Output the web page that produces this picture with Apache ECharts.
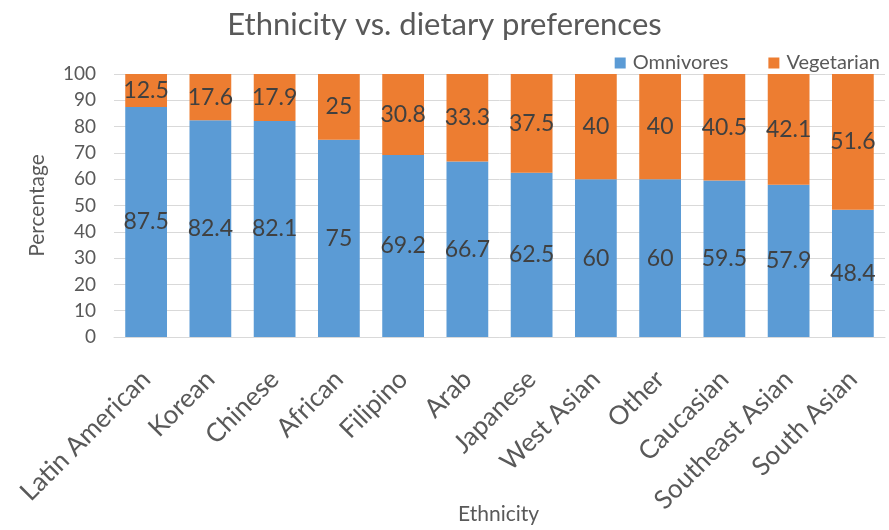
<!DOCTYPE html>
<html><head><meta charset="utf-8">
<script src="https://cdn.jsdelivr.net/npm/echarts@6/dist/echarts.min.js"></script>
<style>html,body{margin:0;padding:0;background:#fff}#c{width:889px;height:530px}</style>
</head><body><div id="c"></div>
<script>
const categories = ["Latin American","Korean","Chinese","African","Filipino","Arab","Japanese","West Asian","Other","Caucasian","Southeast Asian","South Asian"];
const omnivores = [87.5,82.4,82.1,75,69.2,66.7,62.5,60,60,59.5,57.9,48.4];
const vegetarian = [12.5,17.6,17.9,25,30.8,33.3,37.5,40,40,40.5,42.1,51.6];
const yTicks = [0,10,20,30,40,50,60,70,80,90,100];

const chart = echarts.init(document.getElementById('c'));
const font = "Lato, 'Open Sans', sans-serif";
const lbl = {show:true, position:'inside', color:'#404040', fontSize:23, fontFamily:font};
chart.setOption({
  animation:false,
  title:[
    {text:'Ethnicity vs. dietary preferences', left:'center', top:4,
      textStyle:{fontSize:31, fontWeight:'normal', color:'#595959', fontFamily:font}},
    {text:'Ethnicity', left:458, top:504, padding:0,
      textStyle:{fontSize:21, fontWeight:'normal', color:'#595959', fontFamily:font}}
  ],
  legend:{right:4, top:48, itemWidth:11, itemHeight:11, itemGap:40, icon:'rect',
    textStyle:{fontSize:20, color:'#595959', fontFamily:font, padding:[0,0,0,2]},
    data:['Omnivores','Vegetarian']},
  grid:{left:114, right:4, top:74, bottom:193, outerBoundsMode:'none', containLabel:false},
  xAxis:{type:'category', data:categories,
    axisLine:{lineStyle:{color:'#d9d9d9'}}, axisTick:{show:false},
    axisLabel:{rotate:45, fontSize:26, color:'#595959', fontFamily:font, margin:38, interval:0}},
  yAxis:{type:'value', min:0, max:100, interval:10, name:'Percentage', nameLocation:'middle', nameGap:66,
    nameTextStyle:{fontSize:21, color:'#595959', fontFamily:font},
    axisLine:{show:false}, axisTick:{show:false},
    axisLabel:{fontSize:19, color:'#595959', fontFamily:font, margin:18,
      formatter:v=>yTicks.includes(v)?String(v):''},
    splitLine:{lineStyle:{color:'#d9d9d9'}}},
  series:[
    {name:'Omnivores', type:'bar', stack:'s', data:omnivores, barWidth:'65%',
      itemStyle:{color:'#5B9BD5'}, label:lbl},
    {name:'Vegetarian', type:'bar', stack:'s', data:vegetarian, barWidth:'65%',
      itemStyle:{color:'#ED7D31'}, label:lbl}
  ]
});
</script></body></html>
